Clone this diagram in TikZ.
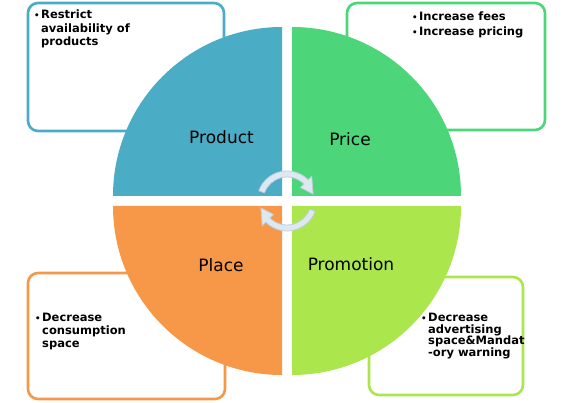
\documentclass[tikz,border=0pt]{standalone}
\usepackage{fontspec}
\setmainfont{DejaVu Sans}
\usetikzlibrary{positioning}
\definecolor{prodfill}{RGB}{75,172,198}
\definecolor{pricefill}{RGB}{76,214,121}
\definecolor{placefill}{RGB}{247,152,72}
\definecolor{promofill}{RGB}{171,230,76}
\definecolor{arrowfill}{RGB}{222,232,240}
\definecolor{arrowedge}{RGB}{190,206,222}
\tikzset{
  infobox/.style={fill=white, line width=2.6pt, rounded corners=10pt},
  pointtext/.style={anchor=north west, align=left, inner sep=0pt,
    font=\bfseries\fontsize{11.5}{13.5}\selectfont},
  quadlabel/.style={font=\fontsize{17}{20}\selectfont, inner sep=0pt},
  cyclearrow/.style={fill=arrowfill, draw=arrowedge, line width=0.8pt}
}
\newcommand{\bul}{\makebox[7pt][l]{\scalebox{0.75}{•}}}
\newcommand{\nobul}{\hspace*{7pt}}

\begin{document}
\begin{tikzpicture}[x=1pt, y=1pt]
  \useasboundingbox (0,0) rectangle (572,403);
  \coordinate (ctr) at (287,202);
  % boxes behind the circle
  \draw[infobox, draw=prodfill] (28,272) rectangle (224,400);
  \draw[infobox, draw=pricefill] (347,273) rectangle (545,400);
  \draw[infobox, draw=placefill] (28,4) rectangle (225,130);
  \draw[infobox, draw=promofill] (369,8) rectangle (523,126);
  % quadrants
  \fill[prodfill] (282,207) -- ++(0,169) arc[start angle=90, end angle=180, radius=169] -- cycle;
  \fill[pricefill] (292,207) -- ++(169,0) arc[start angle=0, end angle=90, radius=169] -- cycle;
  \fill[placefill] (282,197) -- ++(-169,0) arc[start angle=180, end angle=270, radius=169] -- cycle;
  \fill[promofill] (292,197) -- ++(0,-169) arc[start angle=270, end angle=360, radius=169] -- cycle;
  \node[quadlabel] (product) at (221.5,266) {Product};
  \node[quadlabel] (price) at (350,264) {Price};
  \node[quadlabel] (place) at (221,138) {Place};
  \node[quadlabel] (promotion) at (351,139) {Promotion};
  % circular arrows
  \begin{scope}[shift={(ctr)}]
    \filldraw[cyclearrow] (160:30) arc[start angle=160, end angle=45, radius=30]
      -- (45:35) -- (15:27) -- (45:19) -- (45:24)
      arc[start angle=45, end angle=160, radius=24] -- cycle;
    \filldraw[cyclearrow] (340:30) arc[start angle=340, end angle=225, radius=30]
      -- (225:35) -- (195:27) -- (225:19) -- (225:24)
      arc[start angle=225, end angle=340, radius=24] -- cycle;
  \end{scope}
  % texts in boxes
  \node[pointtext] (prodtext) at (34,393)
    {\bul Restrict\\\nobul availability of\\\nobul products};
  \node[pointtext, font=\bfseries\fontsize{11.5}{15}\selectfont] (pricetext) at (412,391)
    {\bul Increase fees\\\bul Increase pricing};
  \node[pointtext, font=\bfseries\fontsize{11.5}{12.8}\selectfont] (placetext) at (35,90)
    {\bul Decrease\\\nobul consumption\\\nobul space};
  \node[pointtext, font=\bfseries\fontsize{11.5}{11.5}\selectfont] (promotext) at (421,90)
    {\bul Decrease\\\nobul advertising\\\nobul space\&Mandat\\\nobul -ory warning};
\end{tikzpicture}
\end{document}
